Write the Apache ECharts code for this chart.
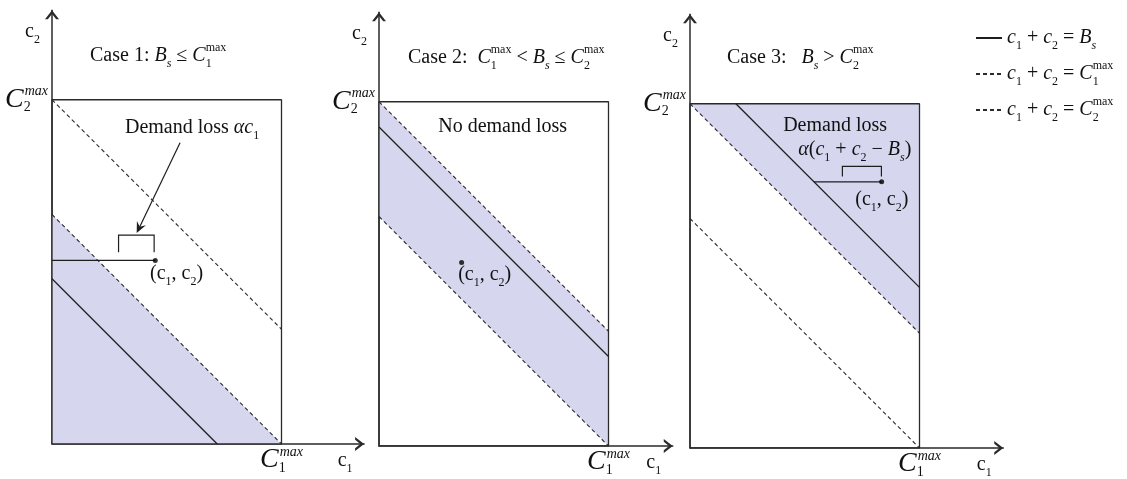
<!DOCTYPE html>
<html>
<head>
<meta charset="utf-8">
<title>Demand loss cases</title>
<script src="https://cdn.jsdelivr.net/npm/echarts@6.0.0/dist/echarts.min.js"></script>
<style>
  html, body { margin: 0; padding: 0; background: #fff; }
  #main { width: 1127px; height: 479px; }
</style>
</head>
<body>
<div id="main"></div>
<script>
// units: c1 runs 0..C1max, c2 runs 0..C2max
var C1MAX = 10, C2MAX = 15;

// end points of the lines in each case
var bsLines = [
  [[0, 7.2], [7.2, 0]],
  [[0, 13.9], [10, 3.9]],
  [[2, 15], [10, 7]]
];
var c1maxLine = [[0, 10], [10, 0]];
var c2maxLine = [[0, 15], [10, 5]];

// shaded regions
var shaded = [
  [[0, 0], [0, 10], [10, 0]],
  [[0, 15], [10, 5], [10, 0], [0, 10]],
  [[0, 15], [10, 15], [10, 5]]
];

// the (c1, c2) point, and where its loss segment starts (null = no segment)
var points = [[4.5, 8], [3.6, 8], [8.35, 11.6]];
var lossFrom = [0, null, 5.4];

// texts
var caseTitles = [
  '{t|Case 1: }{i|B}{bi|s}{t| ≤ }{i|C}{z|1}{p|max}',
  '{t|Case 2:  }{i|C}{z|1}{p|max}{t| < }{i|B}{bi|s}{t| ≤ }{i|C}{z|2}{p|max}',
  '{t|Case 3:   }{i|B}{bi|s}{t| > }{i|C}{z|2}{p|max}'
];
var legendTexts = {
  bs: '{i|c}{b|1}{t| + }{i|c}{b|2}{t| = }{i|B}{bi|s}',
  c1: '{i|c}{b|1}{t| + }{i|c}{b|2}{t| = }{i|C}{z|1}{p|max}',
  c2: '{i|c}{b|1}{t| + }{i|c}{b|2}{t| = }{i|C}{z|2}{p|max}'
};
var pairText = '{t|(c}{b|1}{t|, c}{b|2}{t|)}';

var SERIF = "'Liberation Serif', 'Times New Roman', serif";
var SHADE = '#d6d7ee';
var INK = '#1e1e1e';
var PX = 22.95;       // pixels per unit
var Y_MAX = 18.9;
var ARROW = 'path://M0,9 L7,0 L14,9 L11.2,9 L7,3.8 L2.8,9 Z';

function richSet(size) {
  var s = Math.round(size * 0.62);
  return {
    t: {fontFamily: SERIF, fontSize: size, lineHeight: size + 8, align: 'left'},
    i: {fontFamily: SERIF, fontSize: size, fontStyle: 'italic', lineHeight: size + 8, align: 'left'},
    b: {fontFamily: SERIF, fontSize: s, lineHeight: s + 1, verticalAlign: 'bottom', align: 'left'},
    bi: {fontFamily: SERIF, fontSize: s, fontStyle: 'italic', lineHeight: s + 1, verticalAlign: 'bottom', align: 'left'},
    p: {fontFamily: SERIF, fontSize: s, lineHeight: s + 4, verticalAlign: 'top', align: 'left'},
    z: {fontFamily: SERIF, fontSize: s, lineHeight: s + 1, verticalAlign: 'bottom', width: 0.01, align: 'left'}
  };
}
var rich = richSet(20);
var bigRich = {
  C: {fontFamily: SERIF, fontSize: 28, fontStyle: 'italic', lineHeight: 30, align: 'left'},
  m: {fontFamily: SERIF, fontSize: 14, fontStyle: 'italic', lineHeight: 15, verticalAlign: 'top', align: 'left'},
  d: {fontFamily: SERIF, fontSize: 14, lineHeight: 17, verticalAlign: 'bottom', width: 1, align: 'left'}
};

// where each panel sits
var panels = [
  {left: 52, bottom: 35, xMax: 13.6, title: [90, 42]},
  {left: 379, bottom: 33, xMax: 12.8, title: [408, 44]},
  {left: 690, bottom: 31, xMax: 13.65, title: [727, 44]}
];

// annotations inside each panel
var notes = [
  [{at: [3.18, 13.77], text: '{t|Demand loss }{i|α}{i|c}{b|1}'}, {at: [4.27, 7.41], text: pairText}],
  [{at: [2.58, 13.9], text: '{t|No demand loss}'}, {at: [3.45, 7.47], text: pairText}],
  [{at: [4.06, 14.06], text: '{t|Demand loss}'},
   {at: [4.72, 13.0], text: '{i|α}{t|(}{i|c}{b|1}{t| + }{i|c}{b|2}{t| − }{i|B}{bi|s}{t|)}'},
   {at: [7.2, 10.83], text: pairText}]
];
var brackets = [[2.9, 4.45, 8.35, 9.1], null, [6.64, 8.34, 11.83, 12.27]];
var pointer = [[[5.58, 13.13], [3.69, 9.19]], null, null];

var chart = echarts.init(document.getElementById('main'), null, {renderer: 'canvas'});

var grids = [], xAxes = [], yAxes = [], titles = [], series = [];

panels.forEach(function (p, i) {
  var h = Y_MAX * PX;
  grids.push({left: p.left, top: 479 - p.bottom - h, width: p.xMax * PX, height: h, outerBoundsMode: 'none'});

  var axisLine = {
    show: true, onZero: false,
    symbol: ['none', ARROW], symbolSize: [14, 9], symbolOffset: [0, -4.5],
    lineStyle: {color: '#2a2a2a', width: 1.5}
  };
  xAxes.push({
    gridIndex: i, type: 'value', min: 0, max: p.xMax,
    axisLine: axisLine, axisTick: {show: false}, splitLine: {show: false},
    axisLabel: {
      customValues: [C1MAX], margin: 1, color: '#111', rich: bigRich,
      formatter: function () { return '{C|C}{d|1}{m|max}'; }
    },
    name: '{t|c}{b|1}', nameLocation: 'end', nameGap: -19,
    nameTextStyle: {color: '#111', align: 'center', verticalAlign: 'top', padding: [3, 0, 0, 0], rich: rich}
  });
  yAxes.push({
    gridIndex: i, type: 'value', min: 0, max: Y_MAX,
    axisLine: axisLine, axisTick: {show: false}, splitLine: {show: false},
    axisLabel: {
      customValues: [C2MAX], margin: 4, color: '#111', rich: bigRich,
      formatter: function () { return '{C|C}{d|2}{m|max}'; }
    },
    name: '{t|c}{b|2}', nameLocation: 'end', nameGap: -22,
    nameTextStyle: {color: '#111', align: 'right', verticalAlign: 'middle', padding: [0, 12, 0, 0], rich: rich}
  });
  titles.push({
    left: p.title[0], top: p.title[1], padding: 0, text: caseTitles[i],
    textStyle: {color: '#111', fontWeight: 'normal', rich: rich}
  });

  // shaded region
  series.push({
    type: 'custom', xAxisIndex: i, yAxisIndex: i, z: 1, silent: true,
    data: [[0, 0]],
    renderItem: function (params, api) {
      var pts = shaded[i].map(function (d) { return api.coord(d); });
      return {type: 'polygon', shape: {points: pts}, style: {fill: SHADE}};
    }
  });

  // the C1max x C2max box
  series.push({
    type: 'line', name: 'box', xAxisIndex: i, yAxisIndex: i, z: 2, silent: true,
    symbol: 'none', data: [[0, 0], [C1MAX, 0], [C1MAX, C2MAX], [0, C2MAX], [0, 0]],
    lineStyle: {color: '#2a2a2a', width: 1.3}
  });

  var dashed = {color: '#2a2a2a', width: 1.1, type: [4, 3]};
  series.push({
    type: 'line', name: 'c2', xAxisIndex: i, yAxisIndex: i, z: 3, silent: true,
    symbol: 'none', data: c2maxLine, lineStyle: dashed
  });
  series.push({
    type: 'line', name: 'c1', xAxisIndex: i, yAxisIndex: i, z: 3, silent: true,
    symbol: 'none', data: c1maxLine, lineStyle: dashed
  });
  series.push({
    type: 'line', name: 'bs', xAxisIndex: i, yAxisIndex: i, z: 3, silent: true,
    symbol: 'none', data: bsLines[i], lineStyle: {color: INK, width: 1.3}
  });

  if (lossFrom[i] != null) {
    series.push({
      type: 'line', name: 'loss', xAxisIndex: i, yAxisIndex: i, z: 4, silent: true,
      symbol: 'none', data: [[lossFrom[i], points[i][1]], points[i]],
      lineStyle: {color: INK, width: 1.3}
    });
  }
  series.push({
    type: 'scatter', name: 'point', xAxisIndex: i, yAxisIndex: i, z: 5, silent: true,
    symbolSize: 5, data: [points[i]], itemStyle: {color: '#000'}
  });

  // bracket, pointer arrow and texts
  series.push({
    type: 'custom', xAxisIndex: i, yAxisIndex: i, z: 6, silent: true,
    data: [[0, 0]],
    renderItem: function (params, api) {
      var kids = [];
      var br = brackets[i];
      if (br) {
        kids.push({
          type: 'polyline',
          shape: {points: [api.coord([br[0], br[2]]), api.coord([br[0], br[3]]), api.coord([br[1], br[3]]), api.coord([br[1], br[2]])]},
          style: {stroke: INK, lineWidth: 1.2, fill: null}
        });
      }
      var pt = pointer[i];
      if (pt) {
        var a = api.coord(pt[0]), b = api.coord(pt[1]);
        var dx = b[0] - a[0], dy = b[1] - a[1], len = Math.sqrt(dx * dx + dy * dy);
        var ux = dx / len, uy = dy / len, nx = -uy, ny = ux;
        kids.push({
          type: 'line', shape: {x1: a[0], y1: a[1], x2: b[0] - ux * 6, y2: b[1] - uy * 6},
          style: {stroke: INK, lineWidth: 1.2}
        });
        kids.push({
          type: 'polygon',
          shape: {points: [
            b,
            [b[0] - ux * 11 + nx * 5, b[1] - uy * 11 + ny * 5],
            [b[0] - ux * 7, b[1] - uy * 7],
            [b[0] - ux * 11 - nx * 5, b[1] - uy * 11 - ny * 5]
          ]},
          style: {fill: INK}
        });
      }
      notes[i].forEach(function (n) {
        var c = api.coord(n.at);
        kids.push({
          type: 'text', x: c[0], y: c[1],
          style: {text: n.text, rich: rich, fill: '#111', align: 'left', verticalAlign: 'middle'}
        });
      });
      return {type: 'group', children: kids};
    }
  });
});

chart.setOption({
  animation: false,
  backgroundColor: '#fff',
  title: titles,
  grid: grids,
  xAxis: xAxes,
  yAxis: yAxes,
  legend: {
    orient: 'vertical', left: 975, top: 28, padding: 0,
    itemWidth: 26, itemHeight: 12, itemGap: 8, selectedMode: false,
    data: ['bs', 'c1', 'c2'],
    itemStyle: {opacity: 0},
    formatter: function (name) { return legendTexts[name]; },
    textStyle: {color: '#111', rich: rich}
  },
  series: series
});
</script>
</body>
</html>
